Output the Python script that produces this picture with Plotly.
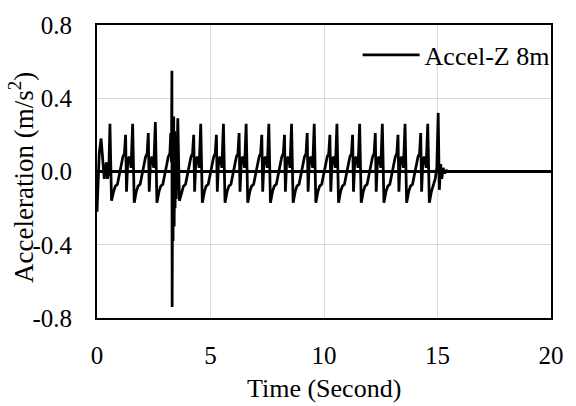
import plotly.graph_objects as go

# Time (s) and vertical acceleration (m/s^2)
time_s = [
    0.00, 0.04, 0.10, 0.18, 0.24, 0.32, 0.38, 0.42, 0.46, 0.52, 0.57,
    0.64, 0.73, 0.81, 0.90, 0.98, 1.06, 1.14, 1.21, 1.26, 1.30, 1.36, 1.43, 1.50, 1.57,
    1.64, 1.73, 1.81, 1.90, 1.98, 2.06, 2.14, 2.21, 2.26, 2.30, 2.36, 2.43, 2.50, 2.57,
    2.64, 2.73, 2.81, 2.90, 2.98, 3.06, 3.14, 3.21, 3.25, 3.28, 3.30, 3.31, 3.33, 3.35,
    3.38, 3.40, 3.42, 3.44, 3.47, 3.49, 3.52, 3.56,
    3.63, 3.73, 3.81, 3.90, 3.98, 4.06, 4.14, 4.21, 4.26, 4.30, 4.36, 4.43, 4.50, 4.57,
    4.64, 4.73, 4.81, 4.90, 4.98, 5.06, 5.14, 5.21, 5.26, 5.30, 5.36, 5.43, 5.50, 5.57,
    5.64, 5.73, 5.81, 5.90, 5.98, 6.06, 6.14, 6.21, 6.26, 6.30, 6.36, 6.43, 6.50, 6.57,
    6.64, 6.73, 6.81, 6.90, 6.98, 7.06, 7.14, 7.21, 7.26, 7.30, 7.36, 7.43, 7.50, 7.57,
    7.64, 7.73, 7.81, 7.90, 7.98, 8.06, 8.14, 8.21, 8.26, 8.30, 8.36, 8.43, 8.50, 8.57,
    8.64, 8.73, 8.81, 8.90, 8.98, 9.06, 9.14, 9.21, 9.26, 9.30, 9.36, 9.43, 9.50, 9.57,
    9.64, 9.73, 9.81, 9.90, 9.98, 10.06, 10.14, 10.21, 10.26, 10.30, 10.36, 10.43, 10.50, 10.57,
    10.64, 10.73, 10.81, 10.90, 10.98, 11.06, 11.14, 11.21, 11.26, 11.30, 11.36, 11.43, 11.50, 11.57,
    11.64, 11.73, 11.81, 11.90, 11.98, 12.06, 12.14, 12.21, 12.26, 12.30, 12.36, 12.43, 12.50, 12.57,
    12.64, 12.73, 12.81, 12.90, 12.98, 13.06, 13.14, 13.21, 13.26, 13.30, 13.36, 13.43, 13.50, 13.57,
    13.64, 13.73, 13.81, 13.90, 13.98, 14.06, 14.14, 14.21, 14.26, 14.30, 14.36, 14.43, 14.50, 14.57,
    14.64, 14.73, 14.81, 14.90, 14.97, 15.03, 15.08, 15.14, 15.19, 15.25, 15.32, 15.40, 15.50,
    20.00,
]
accel_z = [
    -0.22, -0.10, 0.10, 0.18, 0.10, -0.04, 0.03, 0.05, -0.04, 0.00, 0.26,
    -0.16, -0.11, -0.08, -0.07, -0.02, 0.04, 0.08, 0.10, 0.20, -0.11, 0.07, 0.08, 0.02, 0.26,
    -0.17, -0.11, -0.08, -0.07, -0.02, 0.04, 0.08, 0.10, 0.21, -0.11, 0.07, 0.08, 0.02, 0.27,
    -0.17, -0.11, -0.08, -0.07, -0.02, 0.04, 0.08, 0.10, 0.21, 0.05, 0.55, -0.74, 0.00, -0.38,
    0.30, -0.30, 0.22, -0.20, 0.15, -0.15, 0.05, 0.29,
    -0.16, -0.11, -0.08, -0.07, -0.02, 0.04, 0.08, 0.10, 0.20, -0.11, 0.07, 0.08, 0.02, 0.26,
    -0.17, -0.11, -0.08, -0.07, -0.02, 0.04, 0.08, 0.10, 0.20, -0.11, 0.07, 0.08, 0.02, 0.26,
    -0.17, -0.11, -0.08, -0.07, -0.02, 0.04, 0.08, 0.10, 0.21, -0.11, 0.07, 0.08, 0.02, 0.26,
    -0.17, -0.11, -0.08, -0.07, -0.02, 0.04, 0.08, 0.10, 0.20, -0.11, 0.07, 0.08, 0.02, 0.26,
    -0.17, -0.11, -0.08, -0.07, -0.02, 0.04, 0.08, 0.10, 0.20, -0.11, 0.07, 0.08, 0.02, 0.26,
    -0.17, -0.11, -0.08, -0.07, -0.02, 0.04, 0.08, 0.10, 0.21, -0.11, 0.07, 0.08, 0.02, 0.26,
    -0.17, -0.11, -0.08, -0.07, -0.02, 0.04, 0.08, 0.10, 0.20, -0.11, 0.07, 0.08, 0.02, 0.26,
    -0.17, -0.11, -0.08, -0.07, -0.02, 0.04, 0.08, 0.10, 0.20, -0.11, 0.07, 0.08, 0.02, 0.26,
    -0.17, -0.11, -0.08, -0.07, -0.02, 0.04, 0.08, 0.10, 0.21, -0.11, 0.07, 0.08, 0.02, 0.26,
    -0.17, -0.11, -0.08, -0.07, -0.02, 0.04, 0.08, 0.10, 0.20, -0.11, 0.07, 0.08, 0.02, 0.26,
    -0.17, -0.11, -0.08, -0.07, -0.02, 0.04, 0.08, 0.10, 0.21, -0.11, 0.07, 0.08, 0.02, 0.26,
    -0.17, -0.11, -0.08, -0.04, 0.02, 0.32, -0.10, 0.04, -0.04, 0.02, -0.01, 0.005, 0.00,
    0.00,
]

x_ticks = [0, 5, 10, 15, 20]
y_ticks = [-0.8, -0.4, 0.0, 0.4, 0.8]
y_tick_text = ["-0.8", "-0.4", "0.0", "0.4", "0.8"]

series_name = "Accel-Z 8m"
x_title = "Time (Second)"
y_title = "Acceleration (m/s<sup>2</sup>)"

FONT = "Liberation Serif"

fig = go.Figure()
fig.add_trace(go.Scatter(
    x=time_s, y=accel_z, mode="lines", name=series_name,
    line=dict(color="black", width=2.75),
))

fig.update_layout(
    width=576, height=406,
    margin=dict(l=97, r=14, t=20, b=88),
    paper_bgcolor="white", plot_bgcolor="white",
    font=dict(family=FONT, size=25, color="black"),
    showlegend=True,
    legend=dict(
        x=0.574, y=0.898, xanchor="left", yanchor="middle",
        bgcolor="rgba(0,0,0,0)", font=dict(size=26, family=FONT),
        itemwidth=57,
    ),
    xaxis=dict(
        range=[0, 20], tickvals=x_ticks, showgrid=True, gridcolor="#d9d9d9", gridwidth=1,
        showline=True, linecolor="black", linewidth=2, mirror=True,
        zeroline=False, ticks="", ticklabelstandoff=14,
        tickfont=dict(size=25, family=FONT),
    ),
    yaxis=dict(
        range=[-0.8, 0.8], tickvals=y_ticks, ticktext=y_tick_text,
        showgrid=True, gridcolor="#d9d9d9", gridwidth=1,
        showline=True, linecolor="black", linewidth=2, mirror=True,
        zeroline=True, zerolinecolor="black", zerolinewidth=2.75,
        ticks="", ticklabelstandoff=18,
        tickfont=dict(size=25, family=FONT),
    ),
    annotations=[
        dict(text=x_title, xref="paper", yref="paper", x=0.5, y=-0.242,
             xanchor="center", yanchor="middle", showarrow=False,
             font=dict(size=26, family=FONT)),
        dict(text=y_title, xref="paper", yref="paper", x=-0.166, y=0.48,
             xanchor="center", yanchor="middle", showarrow=False, textangle=-90,
             font=dict(size=27, family=FONT)),
    ],
)

fig.write_html("out.html")
